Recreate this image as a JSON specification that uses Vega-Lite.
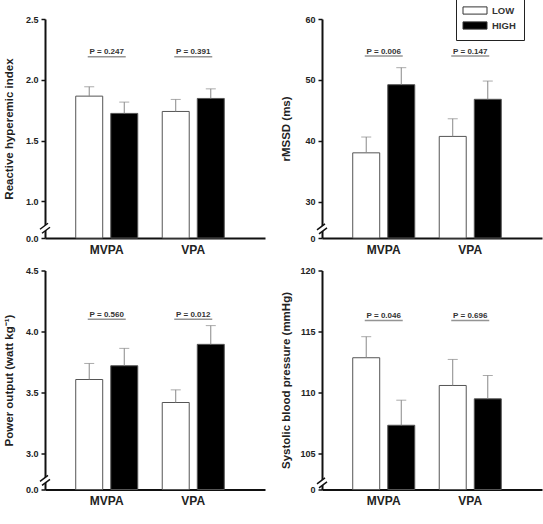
{
  "$schema": "https://vega.github.io/schema/vega-lite/v6.json",
  "padding": {"left": 3, "top": -5, "right": 3, "bottom": 3},
  "background": "white",
  "datasets": {
    "bars": [
      {"panel": "RHI", "group": "MVPA", "level": "LOW", "mean": 1.866, "upper": 1.943},
      {"panel": "RHI", "group": "MVPA", "level": "HIGH", "mean": 1.724, "upper": 1.817},
      {"panel": "RHI", "group": "VPA", "level": "LOW", "mean": 1.74, "upper": 1.839},
      {"panel": "RHI", "group": "VPA", "level": "HIGH", "mean": 1.847, "upper": 1.926},
      {"panel": "rMSSD", "group": "MVPA", "level": "LOW", "mean": 38.0, "upper": 40.6},
      {"panel": "rMSSD", "group": "MVPA", "level": "HIGH", "mean": 49.2, "upper": 52.0},
      {"panel": "rMSSD", "group": "VPA", "level": "LOW", "mean": 40.7, "upper": 43.6},
      {"panel": "rMSSD", "group": "VPA", "level": "HIGH", "mean": 46.8, "upper": 49.8},
      {"panel": "PO", "group": "MVPA", "level": "LOW", "mean": 3.604, "upper": 3.736},
      {"panel": "PO", "group": "MVPA", "level": "HIGH", "mean": 3.717, "upper": 3.86},
      {"panel": "PO", "group": "VPA", "level": "LOW", "mean": 3.415, "upper": 3.519},
      {"panel": "PO", "group": "VPA", "level": "HIGH", "mean": 3.893, "upper": 4.047},
      {"panel": "SBP", "group": "MVPA", "level": "LOW", "mean": 112.83, "upper": 114.56},
      {"panel": "SBP", "group": "MVPA", "level": "HIGH", "mean": 107.28, "upper": 109.34},
      {"panel": "SBP", "group": "VPA", "level": "LOW", "mean": 110.55, "upper": 112.69},
      {"panel": "SBP", "group": "VPA", "level": "HIGH", "mean": 109.45, "upper": 111.37}
    ],
    "pvals": [
      {"panel": "RHI", "group": "MVPA", "label": "P = 0.247", "pos": 2.19},
      {"panel": "RHI", "group": "VPA", "label": "P = 0.391", "pos": 2.19},
      {"panel": "rMSSD", "group": "MVPA", "label": "P = 0.006", "pos": 53.9},
      {"panel": "rMSSD", "group": "VPA", "label": "P = 0.147", "pos": 53.9},
      {"panel": "PO", "group": "MVPA", "label": "P = 0.560", "pos": 4.1},
      {"panel": "PO", "group": "VPA", "label": "P = 0.012", "pos": 4.1},
      {"panel": "SBP", "group": "MVPA", "label": "P = 0.046", "pos": 115.9},
      {"panel": "SBP", "group": "VPA", "label": "P = 0.696", "pos": 115.9}
    ]
  },
  "columns": 2,
  "spacing": {"row": 11.5, "column": 15},
  "resolve": {"scale": {"fill": "independent"}, "legend": {"fill": "independent"}},
  "concat": [
    {
      "width": 220, "height": 219,
      "layer": [
        {"data": {"name": "bars"}, "transform": [{"filter": "datum.panel == 'RHI'"}],
         "mark": {"type": "bar", "stroke": "#555", "strokeWidth": 1},
         "encoding": {
           "x": {"field": "group", "type": "nominal", "sort": ["MVPA", "VPA"], "scale": {"paddingInner": 0.283, "paddingOuter": 0.413, "align": 0.43}, "axis": {"title": null}},
           "xOffset": {"field": "level", "type": "nominal", "scale": {"domain": ["LOW", "HIGH"], "paddingInner": 0.23, "paddingOuter": 0}},
           "y": {"field": "mean", "type": "quantitative", "title": "Reactive hyperemic index", "scale": {"domain": [0.7, 2.5], "clamp": true, "zero": false, "nice": false}, "axis": {"values": [0.7, 1, 1.5, 2, 2.5], "labelExpr": "datum.value < 0.8 ? '0.0' : format(datum.value, '.1f')"}},
           "fill": {"field": "level", "type": "nominal", "scale": {"domain": ["LOW", "HIGH"], "range": ["#ffffff", "#000000"]}, "legend": null}
         }},
        {"data": {"name": "bars"}, "transform": [{"filter": "datum.panel == 'RHI'"}],
         "mark": {"type": "rule", "color": "#888", "strokeWidth": 1},
         "encoding": {"x": {"field": "group", "type": "nominal"}, "xOffset": {"field": "level", "type": "nominal"}, "y": {"field": "mean", "type": "quantitative"}, "y2": {"field": "upper"}}},
        {"data": {"name": "bars"}, "transform": [{"filter": "datum.panel == 'RHI'"}],
         "mark": {"type": "tick", "color": "#888", "size": 10, "thickness": 1},
         "encoding": {"x": {"field": "group", "type": "nominal"}, "xOffset": {"field": "level", "type": "nominal"}, "y": {"field": "upper", "type": "quantitative"}}},
        {"data": {"name": "pvals"}, "transform": [{"filter": "datum.panel == 'RHI'"}],
         "mark": {"type": "tick", "color": "#666", "size": 38, "thickness": 1.5},
         "encoding": {"x": {"field": "group", "type": "nominal"}, "y": {"field": "pos", "type": "quantitative"}}},
        {"data": {"name": "pvals"}, "transform": [{"filter": "datum.panel == 'RHI'"}],
         "mark": {"type": "text", "fontSize": 8, "fontWeight": "bold", "color": "#333", "baseline": "alphabetic", "dy": -2.5},
         "encoding": {"x": {"field": "group", "type": "nominal"}, "y": {"field": "pos", "type": "quantitative"}, "text": {"field": "label"}}},
        {"data": {"values": [{}]},
         "mark": {"type": "point", "shape": "M-1,0.2L0.6,-1L1,-0.2L-0.6,1Z", "filled": true, "fill": "white", "strokeWidth": 0, "size": 100, "opacity": 1},
         "encoding": {"x": {"value": 0}, "y": {"datum": 0.78, "type": "quantitative"}}},
        {"data": {"values": [{}]},
         "mark": {"type": "point", "shape": "M-1,0.2L0.6,-1M-0.6,1L1,-0.2", "filled": false, "stroke": "#111", "strokeWidth": 1.5, "size": 100, "opacity": 1},
         "encoding": {"x": {"value": 0}, "y": {"datum": 0.78, "type": "quantitative"}}}
      ]
    },
    {
      "width": 220, "height": 219,
      "layer": [
        {"data": {"name": "bars"}, "transform": [{"filter": "datum.panel == 'rMSSD'"}],
         "mark": {"type": "bar", "stroke": "#555", "strokeWidth": 1},
         "encoding": {
           "x": {"field": "group", "type": "nominal", "sort": ["MVPA", "VPA"], "scale": {"paddingInner": 0.283, "paddingOuter": 0.413, "align": 0.43}, "axis": {"title": null}},
           "xOffset": {"field": "level", "type": "nominal", "scale": {"domain": ["LOW", "HIGH"], "paddingInner": 0.23, "paddingOuter": 0}},
           "y": {"field": "mean", "type": "quantitative", "title": "rMSSD (ms)", "scale": {"domain": [24, 60], "clamp": true, "zero": false, "nice": false}, "axis": {"values": [24, 30, 40, 50, 60], "labelExpr": "datum.value < 25 ? '0' : format(datum.value, 'd')"}},
           "fill": {"field": "level", "type": "nominal", "scale": {"domain": ["LOW", "HIGH"], "range": ["#ffffff", "#000000"]},
             "legend": {"title": null, "orient": "none", "legendX": 134, "legendY": -23, "strokeColor": "#222", "fillColor": "white", "padding": 8, "symbolType": "M-1.25,-0.6L2.75,-0.6L2.75,0.6L-1.25,0.6Z", "symbolSize": 144, "symbolStrokeColor": "#333", "symbolStrokeWidth": 1, "symbolOpacity": 1, "labelFontSize": 9.5, "labelFontWeight": "bold", "labelColor": "#333", "labelFont": "Liberation Sans", "labelOffset": 15, "rowPadding": 2}}
         }},
        {"data": {"name": "bars"}, "transform": [{"filter": "datum.panel == 'rMSSD'"}],
         "mark": {"type": "rule", "color": "#888", "strokeWidth": 1},
         "encoding": {"x": {"field": "group", "type": "nominal"}, "xOffset": {"field": "level", "type": "nominal"}, "y": {"field": "mean", "type": "quantitative"}, "y2": {"field": "upper"}}},
        {"data": {"name": "bars"}, "transform": [{"filter": "datum.panel == 'rMSSD'"}],
         "mark": {"type": "tick", "color": "#888", "size": 10, "thickness": 1},
         "encoding": {"x": {"field": "group", "type": "nominal"}, "xOffset": {"field": "level", "type": "nominal"}, "y": {"field": "upper", "type": "quantitative"}}},
        {"data": {"name": "pvals"}, "transform": [{"filter": "datum.panel == 'rMSSD'"}],
         "mark": {"type": "tick", "color": "#666", "size": 38, "thickness": 1.5},
         "encoding": {"x": {"field": "group", "type": "nominal"}, "y": {"field": "pos", "type": "quantitative"}}},
        {"data": {"name": "pvals"}, "transform": [{"filter": "datum.panel == 'rMSSD'"}],
         "mark": {"type": "text", "fontSize": 8, "fontWeight": "bold", "color": "#333", "baseline": "alphabetic", "dy": -2.5},
         "encoding": {"x": {"field": "group", "type": "nominal"}, "y": {"field": "pos", "type": "quantitative"}, "text": {"field": "label"}}},
        {"data": {"values": [{}]},
         "mark": {"type": "point", "shape": "M-1,0.2L0.6,-1L1,-0.2L-0.6,1Z", "filled": true, "fill": "white", "strokeWidth": 0, "size": 100, "opacity": 1},
         "encoding": {"x": {"value": 0}, "y": {"datum": 25.5, "type": "quantitative"}}},
        {"data": {"values": [{}]},
         "mark": {"type": "point", "shape": "M-1,0.2L0.6,-1M-0.6,1L1,-0.2", "filled": false, "stroke": "#111", "strokeWidth": 1.5, "size": 100, "opacity": 1},
         "encoding": {"x": {"value": 0}, "y": {"datum": 25.5, "type": "quantitative"}}}
      ]
    },
    {
      "width": 220, "height": 219,
      "layer": [
        {"data": {"name": "bars"}, "transform": [{"filter": "datum.panel == 'PO'"}],
         "mark": {"type": "bar", "stroke": "#555", "strokeWidth": 1},
         "encoding": {
           "x": {"field": "group", "type": "nominal", "sort": ["MVPA", "VPA"], "scale": {"paddingInner": 0.283, "paddingOuter": 0.413, "align": 0.43}, "axis": {"title": null}},
           "xOffset": {"field": "level", "type": "nominal", "scale": {"domain": ["LOW", "HIGH"], "paddingInner": 0.23, "paddingOuter": 0}},
           "y": {"field": "mean", "type": "quantitative", "title": "Power output (watt kg⁻¹)", "scale": {"domain": [2.7, 4.5], "clamp": true, "zero": false, "nice": false}, "axis": {"values": [2.7, 3, 3.5, 4, 4.5], "labelExpr": "datum.value < 2.8 ? '0.0' : format(datum.value, '.1f')"}},
           "fill": {"field": "level", "type": "nominal", "scale": {"domain": ["LOW", "HIGH"], "range": ["#ffffff", "#000000"]}, "legend": null}
         }},
        {"data": {"name": "bars"}, "transform": [{"filter": "datum.panel == 'PO'"}],
         "mark": {"type": "rule", "color": "#888", "strokeWidth": 1},
         "encoding": {"x": {"field": "group", "type": "nominal"}, "xOffset": {"field": "level", "type": "nominal"}, "y": {"field": "mean", "type": "quantitative"}, "y2": {"field": "upper"}}},
        {"data": {"name": "bars"}, "transform": [{"filter": "datum.panel == 'PO'"}],
         "mark": {"type": "tick", "color": "#888", "size": 10, "thickness": 1},
         "encoding": {"x": {"field": "group", "type": "nominal"}, "xOffset": {"field": "level", "type": "nominal"}, "y": {"field": "upper", "type": "quantitative"}}},
        {"data": {"name": "pvals"}, "transform": [{"filter": "datum.panel == 'PO'"}],
         "mark": {"type": "tick", "color": "#666", "size": 38, "thickness": 1.5},
         "encoding": {"x": {"field": "group", "type": "nominal"}, "y": {"field": "pos", "type": "quantitative"}}},
        {"data": {"name": "pvals"}, "transform": [{"filter": "datum.panel == 'PO'"}],
         "mark": {"type": "text", "fontSize": 8, "fontWeight": "bold", "color": "#333", "baseline": "alphabetic", "dy": -2.5},
         "encoding": {"x": {"field": "group", "type": "nominal"}, "y": {"field": "pos", "type": "quantitative"}, "text": {"field": "label"}}},
        {"data": {"values": [{}]},
         "mark": {"type": "point", "shape": "M-1,0.2L0.6,-1L1,-0.2L-0.6,1Z", "filled": true, "fill": "white", "strokeWidth": 0, "size": 100, "opacity": 1},
         "encoding": {"x": {"value": 0}, "y": {"datum": 2.775, "type": "quantitative"}}},
        {"data": {"values": [{}]},
         "mark": {"type": "point", "shape": "M-1,0.2L0.6,-1M-0.6,1L1,-0.2", "filled": false, "stroke": "#111", "strokeWidth": 1.5, "size": 100, "opacity": 1},
         "encoding": {"x": {"value": 0}, "y": {"datum": 2.775, "type": "quantitative"}}}
      ]
    },
    {
      "width": 220, "height": 219,
      "layer": [
        {"data": {"name": "bars"}, "transform": [{"filter": "datum.panel == 'SBP'"}],
         "mark": {"type": "bar", "stroke": "#555", "strokeWidth": 1},
         "encoding": {
           "x": {"field": "group", "type": "nominal", "sort": ["MVPA", "VPA"], "scale": {"paddingInner": 0.283, "paddingOuter": 0.413, "align": 0.43}, "axis": {"title": null}},
           "xOffset": {"field": "level", "type": "nominal", "scale": {"domain": ["LOW", "HIGH"], "paddingInner": 0.23, "paddingOuter": 0}},
           "y": {"field": "mean", "type": "quantitative", "title": "Systolic blood pressure (mmHg)", "scale": {"domain": [102, 120], "clamp": true, "zero": false, "nice": false}, "axis": {"values": [102, 105, 110, 115, 120], "labelExpr": "datum.value < 103 ? '0' : format(datum.value, 'd')"}},
           "fill": {"field": "level", "type": "nominal", "scale": {"domain": ["LOW", "HIGH"], "range": ["#ffffff", "#000000"]}, "legend": null}
         }},
        {"data": {"name": "bars"}, "transform": [{"filter": "datum.panel == 'SBP'"}],
         "mark": {"type": "rule", "color": "#888", "strokeWidth": 1},
         "encoding": {"x": {"field": "group", "type": "nominal"}, "xOffset": {"field": "level", "type": "nominal"}, "y": {"field": "mean", "type": "quantitative"}, "y2": {"field": "upper"}}},
        {"data": {"name": "bars"}, "transform": [{"filter": "datum.panel == 'SBP'"}],
         "mark": {"type": "tick", "color": "#888", "size": 10, "thickness": 1},
         "encoding": {"x": {"field": "group", "type": "nominal"}, "xOffset": {"field": "level", "type": "nominal"}, "y": {"field": "upper", "type": "quantitative"}}},
        {"data": {"name": "pvals"}, "transform": [{"filter": "datum.panel == 'SBP'"}],
         "mark": {"type": "tick", "color": "#666", "size": 38, "thickness": 1.5},
         "encoding": {"x": {"field": "group", "type": "nominal"}, "y": {"field": "pos", "type": "quantitative"}}},
        {"data": {"name": "pvals"}, "transform": [{"filter": "datum.panel == 'SBP'"}],
         "mark": {"type": "text", "fontSize": 8, "fontWeight": "bold", "color": "#333", "baseline": "alphabetic", "dy": -2.5},
         "encoding": {"x": {"field": "group", "type": "nominal"}, "y": {"field": "pos", "type": "quantitative"}, "text": {"field": "label"}}},
        {"data": {"values": [{}]},
         "mark": {"type": "point", "shape": "M-1,0.2L0.6,-1L1,-0.2L-0.6,1Z", "filled": true, "fill": "white", "strokeWidth": 0, "size": 100, "opacity": 1},
         "encoding": {"x": {"value": 0}, "y": {"datum": 102.55, "type": "quantitative"}}},
        {"data": {"values": [{}]},
         "mark": {"type": "point", "shape": "M-1,0.2L0.6,-1M-0.6,1L1,-0.2", "filled": false, "stroke": "#111", "strokeWidth": 1.5, "size": 100, "opacity": 1},
         "encoding": {"x": {"value": 0}, "y": {"datum": 102.55, "type": "quantitative"}}}
      ]
    }
  ],
  "config": {
    "font": "Liberation Sans",
    "view": {"stroke": null},
    "axis": {"grid": false, "domainColor": "#111", "domainWidth": 2, "tickColor": "#111", "tickWidth": 1.5, "labelFont": "Liberation Sans", "labelFontWeight": "bold", "labelColor": "#222", "titleFont": "Liberation Sans", "titleFontWeight": "bold", "titleColor": "#222"},
    "axisY": {"tickSize": 4, "labelFontSize": 9, "labelPadding": 3, "titleFontSize": 11.5, "titlePadding": 1, "minExtent": 30},
    "axisX": {"ticks": false, "labelFontSize": 12, "labelPadding": 6, "labelAngle": 0}
  }
}
